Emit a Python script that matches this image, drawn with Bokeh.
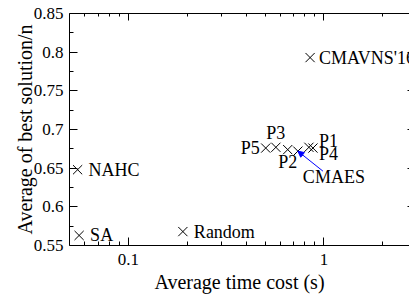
from bokeh.plotting import figure
from bokeh.models import (ColumnDataSource, LogAxis, LinearAxis, Range1d, Arrow,
                          NormalHead, FixedTicker)
from bokeh.embed import file_html
from bokeh.resources import INLINE
from bokeh.core.properties import value

# ---- data ----
names = ["CMAVNS'16", "NAHC", "SA", "Random", "P5", "P3", "P2", "CMAES", "P1", "P4"]
time_cost = [0.85, 0.055, 0.056, 0.19, 0.504, 0.568, 0.653, 0.736, 0.838, 0.879]
best_solution = [0.793, 0.648, 0.563, 0.568, 0.676, 0.677, 0.674, 0.672, 0.677, 0.676]

x_ticks = [0.1, 1]
x_tick_labels = ["0.1", "1"]
x_minor = [0.06, 0.07, 0.08, 0.09, 0.2, 0.3, 0.4, 0.5, 0.6, 0.7, 0.8, 0.9, 2, 3]
y_ticks = [0.55, 0.6, 0.65, 0.7, 0.75, 0.8, 0.85]
y_tick_labels = ["0.55", "0.6", "0.65", "0.7", "0.75", "0.8", "0.85"]
y_minor = [0.575, 0.625, 0.675, 0.725, 0.775, 0.825]

# ---- label styling (screen offsets, px) ----
lab_dx = [9, 11, 11, 11, -6, 0, 0, 5, 10, 6]
lab_dy = [0, 0, 0, 0, 0, -14, 12, 26, -6, 6]
lab_align = ["left", "left", "left", "left", "right", "center", "center", "left", "left", "left"]

FONT = "Liberation Serif"

src = ColumnDataSource(dict(x=time_cost, y=best_solution, name=names,
                            dx=lab_dx, dy=lab_dy, align=lab_align))

p = figure(width=409, height=298, x_axis_type="log",
           x_range=Range1d(0.05, 2.74), y_range=Range1d(0.55, 0.85),
           min_border_left=69, min_border_right=0, min_border_top=13,
           min_border_bottom=53, output_backend="svg", toolbar_location=None)
p.outline_line_color = None
p.grid.visible = False
p.background_fill_color = "white"
p.border_fill_color = "white"

# bottom axis
xa = p.xaxis[0]
xa.ticker = FixedTicker(ticks=x_ticks, minor_ticks=x_minor)
xa.major_label_overrides = {t: l for t, l in zip(x_ticks, x_tick_labels)}
xa.axis_label = "Average time cost (s)"
# left axis
ya = p.yaxis[0]
ya.ticker = FixedTicker(ticks=y_ticks, minor_ticks=y_minor)
ya.major_label_overrides = {t: l for t, l in zip(y_ticks, y_tick_labels)}
ya.axis_label = "Average of best solution/n"

for ax in (xa, ya):
    ax.axis_line_color = "black"
    ax.major_tick_line_color = "black"
    ax.minor_tick_line_color = "black"
    ax.major_tick_in = 8
    ax.major_tick_out = 0
    ax.minor_tick_in = 4
    ax.minor_tick_out = 0
    ax.major_label_text_font = FONT
    ax.major_label_text_font_size = "17px"
    ax.major_label_text_color = "black"
    ax.axis_label_text_font = FONT
    ax.axis_label_text_font_size = "20px"
    ax.axis_label_text_font_style = "normal"
    ax.axis_label_text_color = "black"
xa.major_label_standoff = 8
xa.axis_label_standoff = 3
ya.major_label_standoff = 6
ya.axis_label_standoff = -5

# top mirror axis
top = LogAxis(ticker=FixedTicker(ticks=x_ticks, minor_ticks=x_minor),
              major_tick_in=7, major_tick_out=0, minor_tick_in=3, minor_tick_out=0,
              major_label_text_font_size="1px", major_label_text_color=None,
              major_label_standoff=0, axis_line_color="black")
p.add_layout(top, "above")
# right mirror axis (only tick tips visible)
right = LinearAxis(ticker=FixedTicker(ticks=y_ticks, minor_ticks=y_minor),
                   major_tick_in=2, major_tick_out=0, minor_tick_in=0, minor_tick_out=0,
                   major_label_text_font_size="1px", major_label_text_color=None,
                   major_label_standoff=0, axis_line_color=None)
p.add_layout(right, "right")

# points
p.scatter("x", "y", source=src, marker="x", size=13, line_color="black", line_width=1)

# labels
p.text("x", "y", text="name", source=src, x_offset="dx", y_offset="dy",
       text_align="align", text_baseline="middle",
       text_font=value(FONT), text_font_size="18px", text_color="black")

# arrow from CMAES label to its point
i = names.index("CMAES")
tail_x = time_cost[i] * 10 ** (25 / 195)
tail_y = best_solution[i] - 20 * (0.3 / 232)
p.add_layout(Arrow(end=NormalHead(size=6, fill_color="blue", line_color="blue", line_width=1),
                   x_start=tail_x, y_start=tail_y, x_end=time_cost[i], y_end=best_solution[i],
                   line_color="blue", line_width=1))

open("out.html", "w").write(file_html(p, INLINE))
